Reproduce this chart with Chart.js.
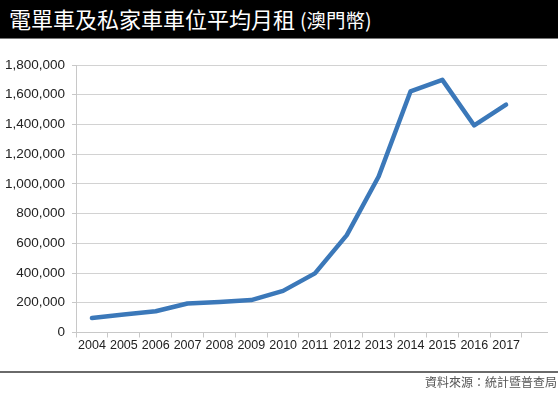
<!DOCTYPE html>
<html>
<head>
<meta charset="utf-8">
<script src="https://cdn.jsdelivr.net/npm/chart.js@4/dist/chart.umd.min.js"></script>
<style>
  html, body { margin: 0; padding: 0; background: #fff; }
  body { width: 560px; height: 395px; position: relative; overflow: hidden; }
  #titlebar { position: absolute; left: 0; top: 0; width: 558px; height: 38px; background: #000;
    border-bottom: 1px solid #777; color: #fff; font-family: "Noto Sans CJK TC", sans-serif;
    white-space: nowrap; }
  #titlebar .main { position: absolute; left: 9px; top: 3px; font-size: 22px; line-height: 30px; }
  #titlebar .sub { font-size: 19.5px; }
  #chartwrap { position: absolute; left: 0; top: 0; width: 560px; height: 395px; }
  #footline { position: absolute; left: 0; top: 371px; width: 558px; height: 2px; background: #6a6a6a; }
  #source { position: absolute; right: 3px; top: 374px; font-family: "Noto Sans CJK TC", sans-serif;
    font-size: 12px; line-height: 16px; color: #555; }
</style>
</head>
<body>
<div id="chartwrap"><canvas id="c" width="560" height="395"></canvas></div>
<div id="titlebar"><div class="main">電單車及私家車車位平均月租 <span class="sub">(澳門幣)</span></div></div>
<div id="footline"></div>
<div id="source">資料來源：統計暨普查局</div>
<script>
const years = [2004, 2005, 2006, 2007, 2008, 2009, 2010, 2011, 2012, 2013, 2014, 2015, 2016, 2017];
const rent = [98000, 121000, 143000, 195000, 206000, 218000, 280000, 398000, 655000, 1050000, 1622000, 1700000, 1393000, 1533000];
const yTicks = [0, 200000, 400000, 600000, 800000, 1000000, 1200000, 1400000, 1600000, 1800000];

const points = years.map((y, i) => ({ x: y, y: rent[i] }));
const tickPositions = years.map(y => y - 0.5).concat([years[years.length - 1] + 0.5]);

new Chart(document.getElementById('c'), {
  type: 'line',
  data: {
    datasets: [{
      data: points,
      borderColor: '#3b78b9',
      borderWidth: 4.5,
      pointRadius: 0,
      tension: 0,
      fill: false,
      borderJoinStyle: 'round',
      borderCapStyle: 'round'
    }]
  },
  options: {
    responsive: false,
    animation: false,
    devicePixelRatio: 1,
    layout: { padding: { left: 0, right: 13, top: 65, bottom: 0 } },
    plugins: { legend: { display: false }, tooltip: { enabled: false } },
    scales: {
      x: {
        type: 'linear',
        min: 2003.5,
        max: 2018.285,
        afterBuildTicks: (s) => { s.ticks = tickPositions.map(v => ({ value: v })); },
        afterFit: (s) => { s.height = 62.5; },
        border: { color: '#c8c8c8', width: 1 },
        grid: { drawOnChartArea: false, drawTicks: true, tickLength: 5, color: '#c8c8c8' },
        ticks: {
          autoSkip: false,
          maxRotation: 0,
          minRotation: 0,
          labelOffset: 16,
          padding: 1,
          color: '#222',
          font: { family: "'Liberation Sans Narrow', 'Liberation Sans', Arial, sans-serif", size: 12.5 },
          callback: (v) => {
            const yr = v + 0.5;
            return years.includes(yr) ? String(yr) : '';
          }
        }
      },
      y: {
        min: 0,
        max: 1800000,
        afterBuildTicks: (s) => { s.ticks = yTicks.map(v => ({ value: v })); },
        afterFit: (s) => { s.width = 76; },
        border: { color: '#c8c8c8', width: 1 },
        grid: { color: '#d2d2d2', lineWidth: 1, drawTicks: true, tickLength: 4, tickColor: '#c8c8c8' },
        ticks: {
          padding: 7,
          color: '#222',
          font: { family: "'Liberation Sans', Arial, sans-serif", size: 13.5 },
          callback: (v) => v.toLocaleString('en-US')
        }
      }
    }
  }
});
</script>
</body>
</html>
